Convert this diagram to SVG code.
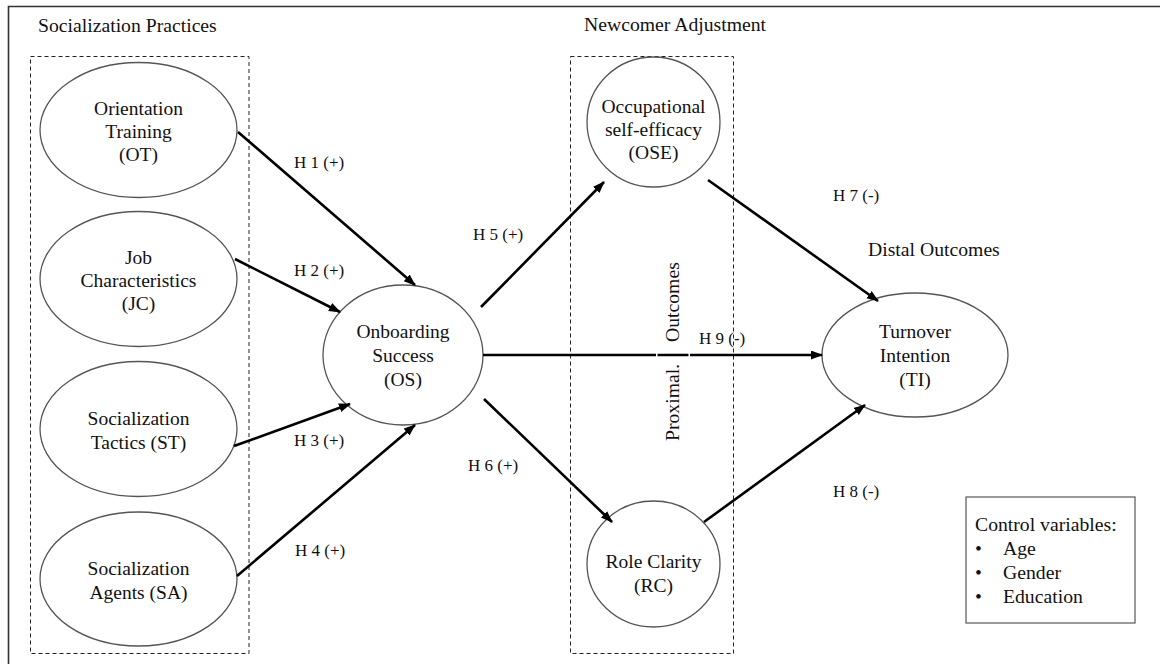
<svg xmlns="http://www.w3.org/2000/svg" width="1160" height="664" viewBox="0 0 1160 664">
<defs>
<marker id="ah" markerWidth="13" markerHeight="10" refX="11" refY="4.5" orient="auto" markerUnits="userSpaceOnUse">
<path d="M0,0 L12,4.5 L0,9 z" fill="#000"/>
</marker>
<style>
text{font-family:"Liberation Serif","Times New Roman",serif;fill:#111;}
.n{font-size:19.5px;text-anchor:middle;}
.h{font-size:17px;}
.s{font-size:19.7px;}
ellipse{fill:#fff;stroke:#555;stroke-width:1.3;}
.box{fill:none;stroke:#222;stroke-width:1;stroke-dasharray:4,3;}
.c line{stroke:#000;stroke-width:2.6;marker-end:url(#ah);}
</style>
</defs>
<rect width="1160" height="664" fill="#fff"/>
<g id="frame">
<path d="M1170,6.5 L8.5,6.5 L8.5,670" fill="none" stroke="#333" stroke-width="1.6"/>
</g>
<g id="groups">
<rect class="box" x="30.5" y="56.5" width="218.5" height="597"/>
<rect class="box" x="570.5" y="56.5" width="163" height="597"/>
<text class="s" x="38" y="32">Socialization Practices</text>
<text class="s" x="584" y="31">Newcomer Adjustment</text>
<text class="s" x="868" y="256">Distal Outcomes</text>
</g>
<g id="OT">
<ellipse cx="138.5" cy="130" rx="98.5" ry="67.5"/>
<text class="n" x="138.5" y="115">Orientation</text>
<text class="n" x="138.5" y="138">Training</text>
<text class="n" x="138.5" y="161">(OT)</text>
</g>
<g id="JC">
<ellipse cx="138.5" cy="279" rx="98.5" ry="67.5"/>
<text class="n" x="138.5" y="264">Job</text>
<text class="n" x="138.5" y="287">Characteristics</text>
<text class="n" x="138.5" y="310">(JC)</text>
</g>
<g id="ST">
<ellipse cx="138.5" cy="429" rx="98.5" ry="67.5"/>
<text class="n" x="138.5" y="425">Socialization</text>
<text class="n" x="138.5" y="449">Tactics (ST)</text>
</g>
<g id="SA">
<ellipse cx="138.5" cy="579" rx="98.5" ry="67"/>
<text class="n" x="138.5" y="575">Socialization</text>
<text class="n" x="138.5" y="599">Agents (SA)</text>
</g>
<g id="OS">
<ellipse cx="403" cy="355" rx="80" ry="70"/>
<text class="n" x="403" y="338">Onboarding</text>
<text class="n" x="403" y="362">Success</text>
<text class="n" x="403" y="386">(OS)</text>
</g>
<g id="OSE">
<ellipse cx="653.5" cy="122" rx="66.5" ry="65"/>
<text class="n" x="653.5" y="113">Occupational</text>
<text class="n" x="653.5" y="136">self-efficacy</text>
<text class="n" x="653.5" y="159">(OSE)</text>
</g>
<g id="RC">
<ellipse cx="653.5" cy="564" rx="66.5" ry="63"/>
<text class="n" x="653.5" y="568">Role Clarity</text>
<text class="n" x="653.5" y="592">(RC)</text>
</g>
<g id="TI">
<ellipse cx="915" cy="355" rx="93" ry="62"/>
<text class="n" x="915" y="338">Turnover</text>
<text class="n" x="915" y="362">Intention</text>
<text class="n" x="915" y="386">(TI)</text>
</g>
<g class="c" id="connectors">
<line x1="238" y1="132" x2="415" y2="285"/>
<line x1="235" y1="259" x2="340" y2="312"/>
<line x1="234" y1="446" x2="350" y2="404"/>
<line x1="237" y1="576" x2="415" y2="425"/>
<line x1="481" y1="307" x2="604" y2="182"/>
<line x1="484" y1="399" x2="612" y2="522"/>
<line x1="708" y1="180" x2="878" y2="301"/>
<line x1="704" y1="522" x2="865" y2="405"/>
<line x1="483" y1="355" x2="822" y2="355"/>
</g>
<g id="gaps">
<rect x="656" y="352" width="1.5" height="6" fill="#fff"/>
<rect x="688.5" y="352" width="1.5" height="6" fill="#fff"/>
</g>
<g id="labels">
<text class="h" x="294" y="168">H 1 (+)</text>
<text class="h" x="294" y="276">H 2 (+)</text>
<text class="h" x="294" y="446">H 3 (+)</text>
<text class="h" x="295" y="556">H 4 (+)</text>
<text class="h" x="473" y="240">H 5 (+)</text>
<text class="h" x="468" y="471">H 6 (+)</text>
<text class="h" x="833" y="201">H 7 (-)</text>
<text class="h" x="833" y="497">H 8 (-)</text>
<text class="h" x="699" y="344">H 9 (-)</text>
<text class="s" transform="translate(679,441) rotate(-90)" font-size="19.5">Proximal.</text>
<text class="s" transform="translate(679,342) rotate(-90)" font-size="19.5">Outcomes</text>
</g>
<g id="controls">
<rect x="966" y="497" width="169" height="126" fill="#fff" stroke="#555" stroke-width="1.2"/>
<text class="s" x="975" y="531" font-size="19.5">Control variables:</text>
<text class="s" x="975" y="555" font-size="19.5">•</text>
<text class="s" x="1003" y="555" font-size="19.5">Age</text>
<text class="s" x="975" y="579" font-size="19.5">•</text>
<text class="s" x="1003" y="579" font-size="19.5">Gender</text>
<text class="s" x="975" y="603" font-size="19.5">•</text>
<text class="s" x="1003" y="603" font-size="19.5">Education</text>
</g>
</svg>
